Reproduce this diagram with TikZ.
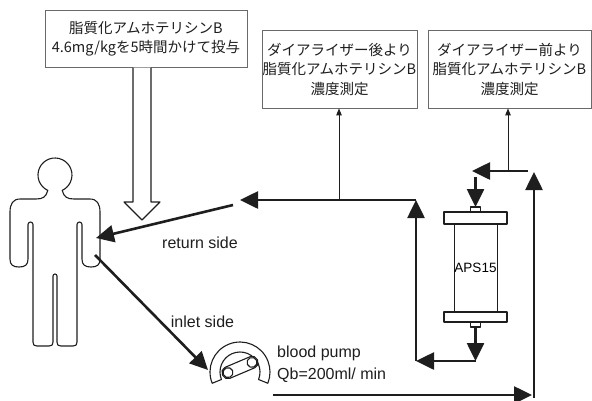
\documentclass[tikz,border=0pt]{standalone}
\usepackage{fontspec}
\setmainfont{Liberation Sans}
\newfontfamily\jp{Noto Sans CJK JP}
\usetikzlibrary{arrows.meta}
\definecolor{ink}{HTML}{1E1E1E}
\definecolor{frame}{HTML}{6A6A6A}
\begin{document}
\begin{tikzpicture}[x=1pt,y=-1pt,
  infobox/.style={draw=frame,line width=0.8pt,align=center,inner sep=0pt,
    font=\jp\fontsize{14.5}{19.5}\selectfont,text=ink},
  flow/.style={draw=ink,line width=2.6pt,-{Triangle[length=18pt,width=17pt]}},
  probe/.style={draw=ink,line width=0.9pt,-{Triangle[length=7pt,width=5.5pt]}},
  tag/.style={font=\fontsize{16}{22}\selectfont,text=ink,inner sep=0pt},
  outline/.style={draw=ink,line width=1.1pt,line join=round}]
\useasboundingbox (0,0) rectangle (592,400);

% information boxes
\node[infobox,minimum width=202pt,minimum height=57pt] (dose) at (146,38.5)
  {脂質化アムホテリシンB\\4.6mg/kgを5時間かけて投与};
\node[infobox,minimum width=155pt,minimum height=78pt] (after) at (339.5,69)
  {ダイアライザー後より\\脂質化アムホテリシンB\\濃度測定};
\node[infobox,minimum width=163pt,minimum height=78pt] (before) at (509.5,69)
  {ダイアライザー前より\\脂質化アムホテリシンB\\濃度測定};

% hollow dosing arrow
\draw[outline,fill=white] (133,67.5) -- (133,202) -- (124,202) -- (142,220)
  -- (160,202) -- (151,202) -- (151,67.5);

% patient figure
\draw[outline] (47.8,190.4) arc[start angle=115,end angle=425,radius=17]
  .. controls (64,197) and (67,199) .. (74,199)
  -- (90,199) .. controls (97,199) and (100,204) .. (100,212)
  -- (100,259) .. controls (100,265) and (97,267) .. (91,267)
  .. controls (85,267) and (82,265) .. (82,259)
  -- (82,224.5) arc[start angle=0,end angle=-180,radius=2.5]
  -- (77,342) .. controls (77,345) and (76,346) .. (73,346)
  -- (61,346) .. controls (58,346) and (57,345) .. (57,342)
  -- (57,276) arc[start angle=0,end angle=-180,radius=2]
  -- (53,342) .. controls (53,345) and (52,346) .. (49,346)
  -- (37,346) .. controls (34,346) and (33,345) .. (33,342)
  -- (33,224.5) arc[start angle=0,end angle=-180,radius=2.5]
  -- (28,259) .. controls (28,265) and (25,267) .. (19,267)
  .. controls (13,267) and (10,265) .. (10,259)
  -- (10,212) .. controls (10,204) and (13,199) .. (20,199)
  -- (36,199) .. controls (43,199) and (46,197) .. cycle;

% blood pump
\coordinate (pump) at (240,372);
\draw[outline,fill=white] (pump) ++(158:30) arc[start angle=158,end angle=382,radius=30]
  -- ++(202:10) arc[start angle=382,end angle=158,radius=20] -- cycle;
\begin{scope}[shift={(240,367.5)},rotate=23]
  \draw[outline,fill=white,rounded corners=5.5pt] (-19,-6) rectangle (19,6);
  \draw[outline] (-13,0) circle[radius=5];
  \draw[outline] (13,0) circle[radius=5];
\end{scope}
\node[tag,anchor=west,align=left] (pumplabel) at (277,364.5)
  {blood pump\\Qb=200ml/ min};

% dialyzer
\node[draw=ink,line width=0.8pt,minimum width=43pt,minimum height=88pt,inner sep=0pt,
  font=\fontsize{13.5}{15}\selectfont] (dialyzer) at (475.5,268) {APS15};
\draw[outline,fill=white] (444,212) rectangle (507,224);
\draw[outline,fill=white] (444,312) rectangle (507,322);
\draw[outline,fill=white] (470.5,207) rectangle (480.5,212);
\draw[outline,fill=white] (470.5,322) rectangle (480.5,327);

% circuit points
\coordinate (armA) at (95,255);
\coordinate (inTip) at (208,370);
\coordinate (pumpOut) at (273,395);
\coordinate (lowRight) at (532,395);
\coordinate (riseBot) at (534,398);
\coordinate (riseTop) at (534,172);
\coordinate (feedR) at (528,171);
\coordinate (feedL) at (472,171);
\coordinate (inTop) at (475.5,177);
\coordinate (inNub) at (475.5,207);
\coordinate (outNub) at (475.5,327);
\coordinate (outBend) at (475.5,361);
\coordinate (retLow) at (416,361);
\coordinate (retHigh) at (416,200);
\coordinate (retEnd) at (240,200);
\coordinate (retStart) at (233,205);
\coordinate (armR) at (96,238);
\coordinate (tapAfter) at (339,200);
\coordinate (tapBefore) at (508,171);

% blood lines
\draw[flow] (armA) -- (inTip);
\draw[flow] (pumpOut) -- (lowRight);
\draw[flow] (riseBot) -- (riseTop);
\draw[flow] (feedR) -- (feedL);
\draw[flow] (inTop) -- (inNub);
\draw[flow] (outNub) -- (outBend);
\draw[flow] (outBend) -- (retLow);
\draw[flow] (retLow) -- (retHigh);
\draw[flow] (retHigh) -- (retEnd);
\draw[flow] (retStart) -- (armR);

% sampling lines
\draw[probe] (tapAfter) -- (tapAfter |- after.south);
\draw[probe] (tapBefore) -- (tapBefore |- before.south);

% line labels
\node[tag] (retlabel) at (200,243) {return side};
\node[tag] (inlabel) at (202.5,322) {inlet side};
\end{tikzpicture}
\end{document}
